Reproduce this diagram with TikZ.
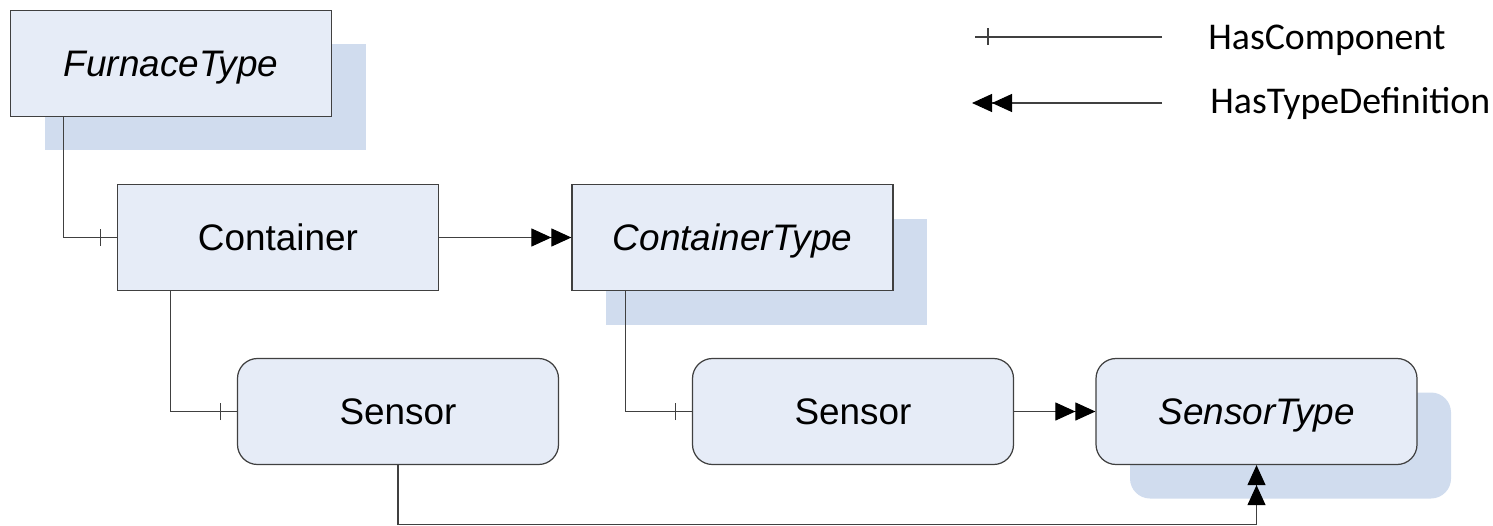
\documentclass[tikz,border=0pt]{standalone}
\usepackage{fontspec}
\setmainfont{Liberation Sans}
\newfontfamily\legendfont{Carlito}
\usetikzlibrary{arrows.meta,positioning,calc,decorations.markings,shadows}
\definecolor{tfill}{HTML}{E6ECF7}
\definecolor{tshade}{HTML}{D0DCEE}
\definecolor{tline}{HTML}{404040}
\tikzset{
  objbox/.style={draw=tline, fill=tfill, line width=0.7pt,
    minimum width=6.42cm, minimum height=2.12cm, inner sep=0pt,
    text depth=0pt, font=\fontsize{21}{25}\selectfont},
  typebox/.style={objbox, font=\fontsize{21}{25}\selectfont\itshape,
    general shadow={draw=none, fill=tshade, shadow xshift=0.68cm, shadow yshift=-0.68cm}},
  varbox/.style={objbox, rounded corners=0.4cm},
  hascomp/.style={draw=tline, line width=0.6pt, postaction={decorate},
    decoration={markings, mark=at position -#1 with
      {\draw[tline, line width=0.6pt] (0,-0.17) -- (0,0.17);}}},
  hascomp/.default=0.32cm,
  hastype/.style={draw=tline, line width=0.6pt,
    -{Triangle[length=4mm,width=3.6mm,color=black]Triangle[length=4mm,width=3.6mm,color=black]}},
  legend/.style={inner sep=0pt, font=\legendfont\fontsize{21.5}{26}\selectfont},
}
\begin{document}
\begin{tikzpicture}[x=1cm, y=1cm]
\useasboundingbox (0,0) rectangle (29.86,10.5);
% ---------------- types and instances ----------------
\node[typebox] (furnace) at (3.42,9.23) {FurnaceType};
\node[objbox] (cont) at (5.56,5.75) {Container};
\node[typebox] (conttype) at (14.65,5.75) {ContainerType};
\node[varbox] (sensA) at (7.96,2.27) {Sensor};
\node[varbox] (sensB) at (17.06,2.27) {Sensor};
\node[typebox, rounded corners=0.4cm] (senstype) at (25.13,2.27) {SensorType};
% HasComponent references
\draw[hascomp] ($(furnace.south west)+(1.08,0)$) |- (cont.west);
\draw[hascomp] ($(cont.south west)+(1.08,0)$) |- (sensA.west);
\draw[hascomp] ($(conttype.south west)+(1.08,0)$) |- (sensB.west);
% HasTypeDefinition references
\draw[hastype] (cont) -- (conttype);
\draw[hastype] (sensB) -- (senstype);
\draw[hastype] (sensA.south) -- ++(0,-1.18) -| (senstype.south);
% ---------------- legend ----------------
\coordinate (compL) at (19.50,9.76);
\coordinate (compR) at (23.24,9.76);
\coordinate (defL) at (19.44,8.44);
\coordinate (defR) at (23.24,8.44);
\draw[hascomp=0.26cm] (compR) -- (compL);
\draw[hastype] (defR) -- (defL);
\node[legend, anchor=base west] (complbl) at (24.16,9.50) {HasComponent};
\node[legend, anchor=base west] (deflbl) at (24.20,8.22) {HasTypeDefinition};
\end{tikzpicture}
\end{document}
